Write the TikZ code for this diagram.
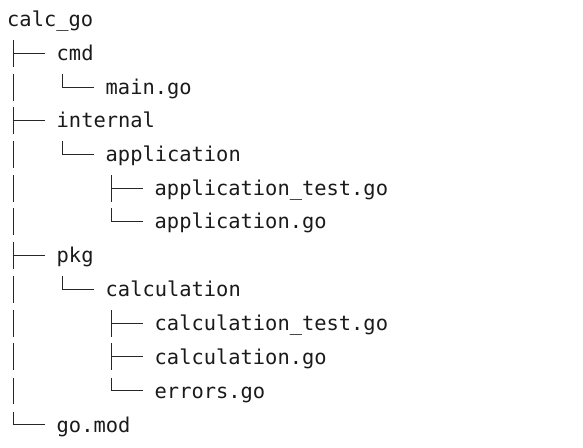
\documentclass[tikz,border=0pt]{standalone}
\usepackage{fontspec}
\setmonofont{DejaVu Sans Mono}
\definecolor{txt}{HTML}{1A1A1A}
\definecolor{ln}{HTML}{262626}
\newcommand{\teeto}[1]{%
  \draw[branch] ([shift={(-43,20.5)}]#1.base west) -- ([shift={(-43,-6)}]#1.base west);
  \draw[branch] ([shift={(-43,7.5)}]#1.base west) -- ([shift={(-12,7.5)}]#1.base west);}
\newcommand{\elbowto}[1]{%
  \draw[branch] ([shift={(-43,20.5)}]#1.base west) |- ([shift={(-12,7.5)}]#1.base west);}
\newcommand{\barat}[1]{%
  \draw[branch] ([yshift=20.5]#1.base west -| colzero) -- ([yshift=-6]#1.base west -| colzero);}
\begin{document}
\begin{tikzpicture}[x=1pt,y=1pt,
  item/.style={anchor=base west, inner sep=0pt, text=txt,
    font=\ttfamily\fontsize{20.4}{24}\selectfont},
  branch/.style={draw=ln, line width=1.9pt}]
\useasboundingbox (0,0) rectangle (583,447);
\coordinate (colzero) at (13.5,0);
% names
\node[item] (root)    at (7,420)    {calc\_go};
\node[item] (cmd)     at (56.5,386) {cmd};
\node[item] (main)    at (105.5,352) {main.go};
\node[item] (internal) at (56.5,319) {internal};
\node[item] (app)     at (105.5,285) {application};
\node[item] (apptest) at (154.5,251) {application\_test.go};
\node[item] (appgo)   at (154.5,218) {application.go};
\node[item] (pkg)     at (56.5,184) {pkg};
\node[item] (calc)    at (105.5,150) {calculation};
\node[item] (calctest) at (154.5,116) {calculation\_test.go};
\node[item] (calcgo)  at (154.5,83)  {calculation.go};
\node[item] (errs)    at (154.5,49)  {errors.go};
\node[item] (gomod)   at (56.5,15)   {go.mod};
% top level branches
\teeto{cmd}
\teeto{internal}
\teeto{pkg}
\elbowto{gomod}
% continuation bars
\barat{main}
\barat{app}
\barat{apptest}
\barat{appgo}
\barat{calc}
\barat{calctest}
\barat{calcgo}
\barat{errs}
% second level
\elbowto{main}
\elbowto{app}
\elbowto{calc}
% third level
\teeto{apptest}
\elbowto{appgo}
\teeto{calctest}
\teeto{calcgo}
\elbowto{errs}
\end{tikzpicture}
\end{document}
